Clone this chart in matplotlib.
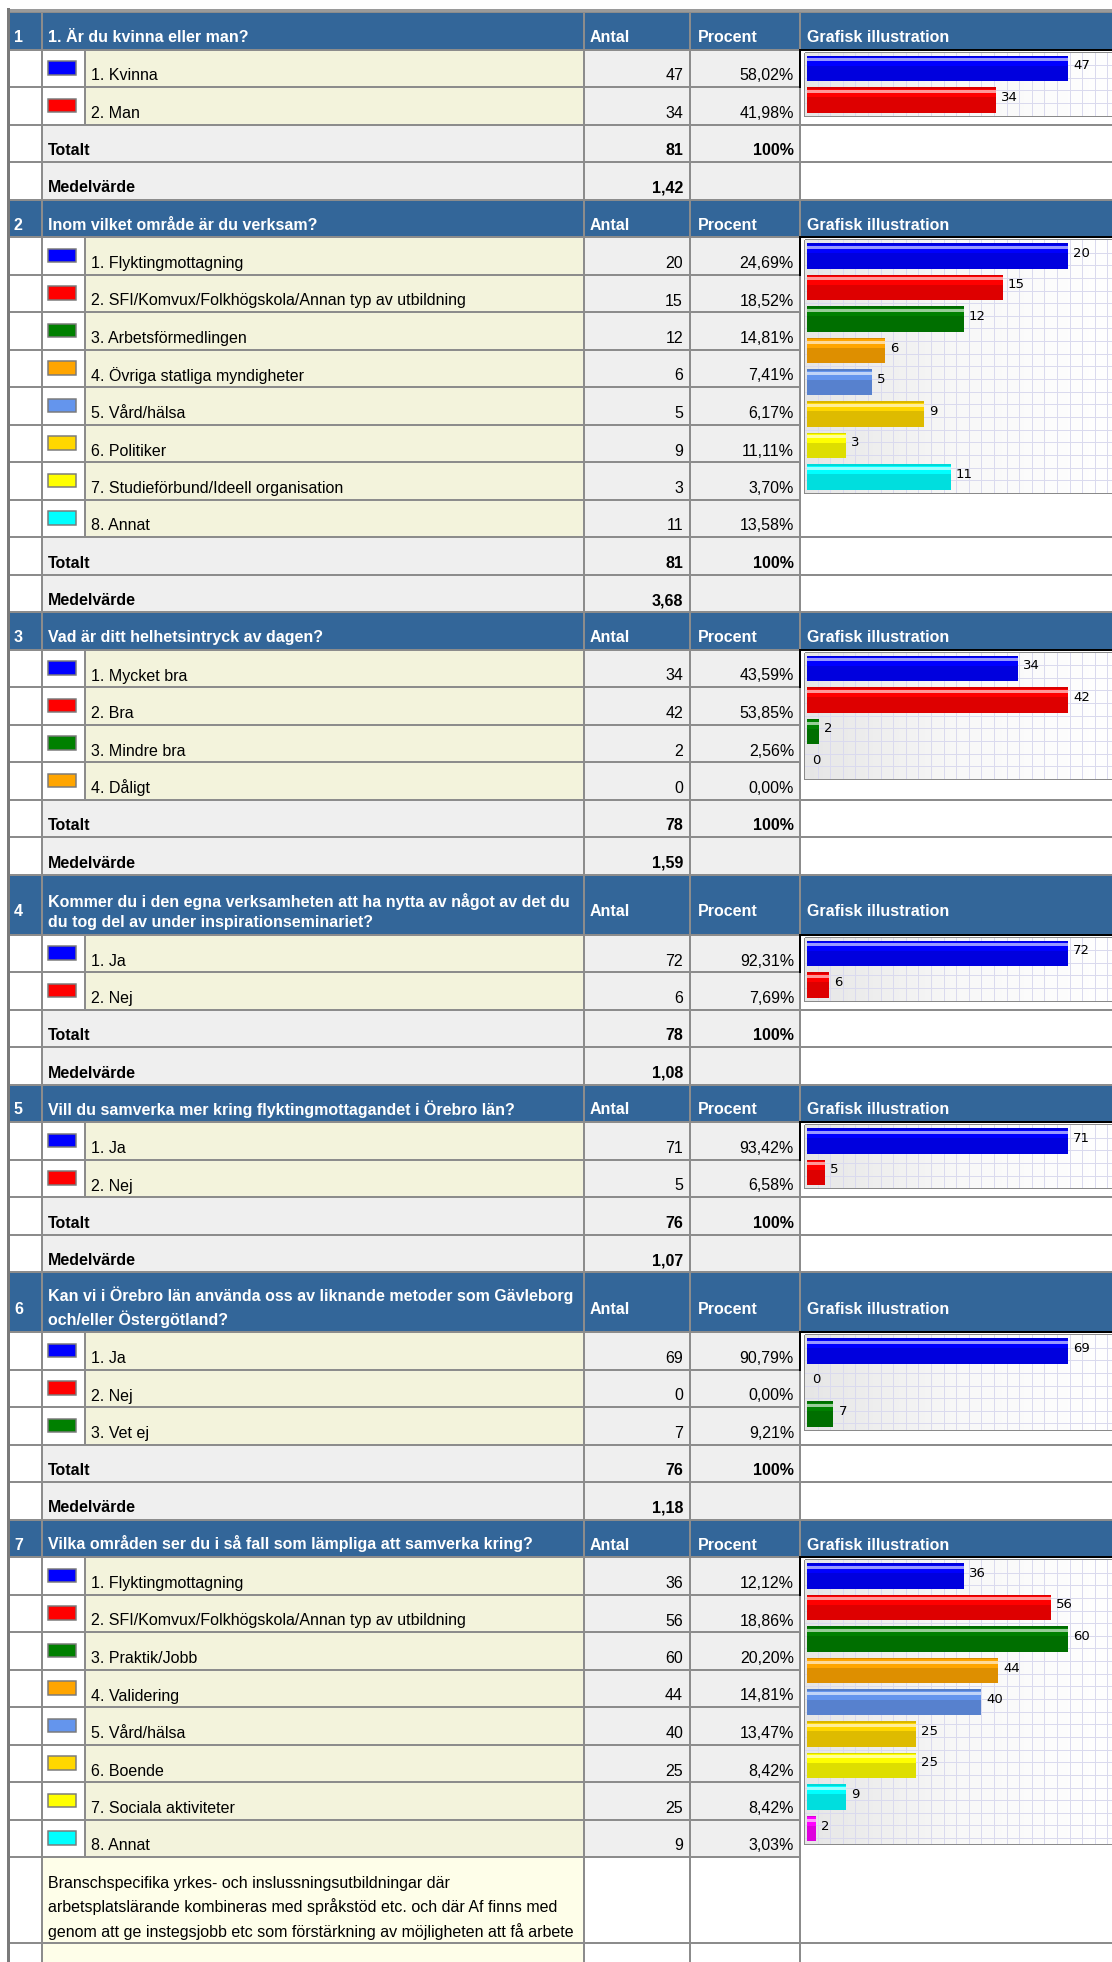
import numpy as np
import matplotlib.pyplot as plt
from matplotlib.patches import Rectangle

# ---- data ----
q1_title = "1. Är du kvinna eller man?"
q1_labels = ["1. Kvinna", "2. Man"]
q1_counts = [47, 34]
q1_pct = [58.02, 41.98]
q1_total = 81
q1_mean = "1,42"

q2_title = "Inom vilket område är du verksam?"
q2_labels = ["1. Flyktingmottagning", "2. SFI/Komvux/Folkhögskola/Annan typ av utbildning",
             "3. Arbetsförmedlingen", "4. Övriga statliga myndigheter", "5. Vård/hälsa",
             "6. Politiker", "7. Studieförbund/Ideell organisation", "8. Annat"]
q2_counts = [20, 15, 12, 6, 5, 9, 3, 11]
q2_pct = [24.69, 18.52, 14.81, 7.41, 6.17, 11.11, 3.70, 13.58]
q2_total = 81
q2_mean = "3,68"

q3_title = "Vad är ditt helhetsintryck av dagen?"
q3_labels = ["1. Mycket bra", "2. Bra", "3. Mindre bra", "4. Dåligt"]
q3_counts = [34, 42, 2, 0]
q3_pct = [43.59, 53.85, 2.56, 0.00]
q3_total = 78
q3_mean = "1,59"

q4_title = ("Kommer du i den egna verksamheten att ha nytta av något av det du\n"
            "du tog del av under inspirationseminariet?")
q4_labels = ["1. Ja", "2. Nej"]
q4_counts = [72, 6]
q4_pct = [92.31, 7.69]
q4_total = 78
q4_mean = "1,08"

q5_title = "Vill du samverka mer kring flyktingmottagandet i Örebro län?"
q5_labels = ["1. Ja", "2. Nej"]
q5_counts = [71, 5]
q5_pct = [93.42, 6.58]
q5_total = 76
q5_mean = "1,07"

q6_title = ("Kan vi i Örebro län använda oss av liknande metoder som Gävleborg\n"
            "och/eller Östergötland?")
q6_labels = ["1. Ja", "2. Nej", "3. Vet ej"]
q6_counts = [69, 0, 7]
q6_pct = [90.79, 0.00, 9.21]
q6_total = 76
q6_mean = "1,18"

q7_title = "Vilka områden ser du i så fall som lämpliga att samverka kring?"
q7_labels = ["1. Flyktingmottagning", "2. SFI/Komvux/Folkhögskola/Annan typ av utbildning",
             "3. Praktik/Jobb", "4. Validering", "5. Vård/hälsa", "6. Boende",
             "7. Sociala aktiviteter", "8. Annat"]
q7_counts = [36, 56, 60, 44, 40, 25, 25, 9]
q7_pct = [12.12, 18.86, 20.20, 14.81, 13.47, 8.42, 8.42, 3.03]
q7_bars = q7_counts + [2]   # chart has an extra bar for the free-text answers
q7_note = ("Branschspecifika yrkes- och inslussningsutbildningar där\n"
           "arbetsplatslärande kombineras med språkstöd etc. och där Af finns med\n"
           "genom att ge instegsjobb etc som förstärkning av möjligheten att få arbete")

option_colors = ["#0000FF", "#FF0000", "#008000", "#FFA500", "#6495ED",
                 "#FFD700", "#FFFF00", "#00FFFF", "#FF00FF"]

# ---- layout (pixels) ----
W, H = 1112, 1962
DPI = 100
ROW = 37.5
HEAD2 = 60
X0, C1, C2, C3, C4, C5 = 8, 42, 85, 584, 690, 800
HEAD = "#336699"
BEIGE = "#F3F3DC"
GRAY = "#EFEFEF"
LINE = "#8C8C8C"
FONT = "Liberation Sans"
FS = 11.5
SLOT = 31.6

fig = plt.figure(figsize=(W / DPI, H / DPI), dpi=DPI)
ax = fig.add_axes([0, 0, 1, 1])
ax.set_xlim(0, W)
ax.set_ylim(H, 0)
ax.axis("off")


def px(v):
    return v * 72 / DPI


def cell(x0, x1, y0, y1, fc, ec=LINE):
    ax.add_patch(Rectangle((x0, y0), x1 - x0, y1 - y0, facecolor=fc,
                           edgecolor=ec, lw=px(2), zorder=1))


def txt(x, y, s, ha="left", bold=False, color="black", va="baseline", ls=1.2):
    ax.text(x, y, s, ha=ha, va=va, fontsize=FS, family=FONT, color=color,
            fontweight="bold" if bold else "normal", zorder=3, linespacing=ls)


def fmt(p):
    return f"{p:.2f}".replace(".", ",") + "%"


def draw_chart(top, values):
    n = len(values)
    hgt = n * SLOT
    left = 805
    ax.add_patch(Rectangle((left, top), W + 10 - left, hgt, facecolor="none",
                           edgecolor="#8A8A8A", lw=px(2), zorder=4))
    cax = fig.add_axes([left / W, 1 - (top + hgt) / H, (W - left) / W, hgt / H])
    vmax = max(values)
    ppu = 261 / vmax
    x_lo = -2 / ppu
    x_hi = (W - left - 2) / ppu
    cax.set_xlim(x_lo, x_hi)
    cax.set_ylim(n - 0.5, -0.5)
    cax.axis("off")
    # background gradient
    grad = np.linspace(0, 1, 256)[None, :]
    cax.imshow(grad, extent=[x_lo, x_hi, n - 0.5, -0.5], aspect="auto",
               cmap=plt.matplotlib.colors.LinearSegmentedColormap.from_list(
                   "bg", ["#E6E6E6", "#F8F8F8", "#FFFFFF"]), zorder=0)
    # grid
    step = 12.6 / ppu
    for gx in np.arange(x_lo + step, x_hi, step):
        cax.axvline(gx, color="#DADAEE", lw=px(1), zorder=1)
    for gy in np.arange(-0.5 + 0.4, n - 0.5, 0.4):
        cax.axhline(gy, color="#DADAEE", lw=px(1), zorder=1)
    ys = np.arange(n)
    cols = option_colors[:n]
    bh = 0.81
    cax.barh(ys, values, height=bh, color=cols, zorder=2, edgecolor="none")
    # darker lower half for glossy look
    cax.barh(ys + bh * 0.2, values, height=bh * 0.6, color="black", alpha=0.13,
             zorder=3, edgecolor="none")
    # highlight stripe near the top
    cax.barh(ys - bh * 0.33, values, height=bh * 0.12, color="white", alpha=0.6,
             zorder=3, edgecolor="none")
    cax.barh(ys - bh * 0.47, values, height=bh * 0.06, color="black", alpha=0.15,
             zorder=3, edgecolor="none")
    for yv, v in zip(ys, values):
        cax.text(v + 5 / ppu, yv - 0.08, str(v), va="center", ha="left",
                 fontsize=9.5, family="DejaVu Sans", color="black", zorder=5)


def draw_section(y, num, title, labels, counts, pct, total=None, mean=None,
                 bars=None, note=None, tall=False):
    hh = HEAD2 if tall else ROW
    for a, b in [(X0, C1), (C1, C3), (C3, C4), (C4, C5), (C5, W + 10)]:
        cell(a, b, y, y + hh, HEAD)
    bottom = y + hh
    mid_base = bottom - 7.5 if not tall else bottom - 18.5
    txt(X0 + 6, mid_base, str(num), bold=True, color="white")
    txt(C1 + 6, bottom - 7.5, title, bold=True, color="white", ls=1.4)
    txt(C3 + 6, mid_base, "Antal", bold=True, color="white")
    txt(C4 + 8, mid_base, "Procent", bold=True, color="white")
    txt(C5 + 7, mid_base, "Grafisk illustration", bold=True, color="white")
    y = bottom
    items_top = y
    for i, lab in enumerate(labels):
        cell(X0, C1, y, y + ROW, "white")
        cell(C1, C2, y, y + ROW, "white")
        cell(C2, C3, y, y + ROW, BEIGE)
        cell(C3, C4, y, y + ROW, GRAY)
        cell(C4, C5, y, y + ROW, GRAY)
        ax.add_patch(Rectangle((C1 + 6, y + 11.5), 28, 13.5, facecolor=option_colors[i],
                               edgecolor="#7A7A7A", lw=px(1.5), zorder=2))
        txt(C2 + 6, y + ROW - 6.5, lab)
        txt(C4 - 7, y + ROW - 6.5, str(counts[i]), ha="right")
        txt(C5 - 6, y + ROW - 6.5, fmt(pct[i]), ha="right")
        y += ROW
    if note is not None:
        nh = 86
        cell(X0, C1, y, y + nh, "white")
        cell(C1, C3, y, y + nh, "#FEFEE9")
        cell(C3, C4, y, y + nh, "white")
        cell(C4, C5, y, y + nh, "white")
        txt(C1 + 6, y + nh - 6, note, ls=1.55)
        y += nh
    cell(C5, W + 10, items_top, y, "white")
    ax.plot([C5, W], [items_top, items_top], color="black", lw=px(2), zorder=5)
    ax.plot([C5, C5], [items_top, items_top + ROW], color="black", lw=px(2), zorder=5)
    draw_chart(items_top + 3, bars if bars is not None else counts)
    if total is not None:
        for name, a_val, p_val in [("Totalt", str(total), "100%"), ("Medelvärde", mean, "")]:
            cell(X0, C1, y, y + ROW, "white")
            cell(C1, C3, y, y + ROW, GRAY)
            cell(C3, C4, y, y + ROW, GRAY)
            cell(C4, C5, y, y + ROW, GRAY)
            cell(C5, W + 10, y, y + ROW, "white")
            txt(C1 + 6, y + ROW - 7, name, bold=True)
            txt(C4 - 7, y + ROW - 7, a_val, ha="right", bold=True)
            if p_val:
                txt(C5 - 6, y + ROW - 7, p_val, ha="right", bold=True)
            y += ROW
    return y


y = 12
ax.plot([X0, W], [10, 10], color="#9A9A9A", lw=px(3), zorder=5)
y = draw_section(y, 1, q1_title, q1_labels, q1_counts, q1_pct, q1_total, q1_mean)
y = draw_section(y, 2, q2_title, q2_labels, q2_counts, q2_pct, q2_total, q2_mean)
y = draw_section(y, 3, q3_title, q3_labels, q3_counts, q3_pct, q3_total, q3_mean)
y = draw_section(y, 4, q4_title, q4_labels, q4_counts, q4_pct, q4_total, q4_mean, tall=True)
y = draw_section(y, 5, q5_title, q5_labels, q5_counts, q5_pct, q5_total, q5_mean)
y = draw_section(y, 6, q6_title, q6_labels, q6_counts, q6_pct, q6_total, q6_mean, tall=True)
y = draw_section(y, 7, q7_title, q7_labels, q7_counts, q7_pct, bars=q7_bars, note=q7_note)
# start of the next (cut off) row
cell(X0, C1, y, H + 10, "white")
cell(C1, C3, y, H + 10, "#FEFEE9")
cell(C3, C4, y, H + 10, "white")
cell(C4, C5, y, H + 10, "white")
cell(C5, W + 10, y, H + 10, "white")
ax.plot([X0, X0], [9, H], color="#7A7A7A", lw=px(3), zorder=6)

fig.savefig("out.png", dpi=DPI)
